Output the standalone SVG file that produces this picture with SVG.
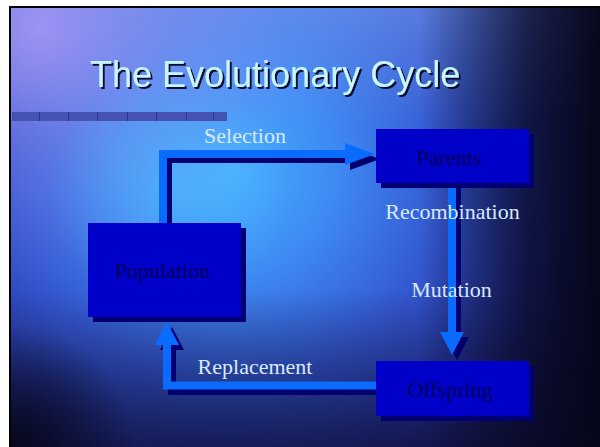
<svg xmlns="http://www.w3.org/2000/svg" width="600" height="447" viewBox="0 0 600 447">
<defs>
<radialGradient id="glow" cx="230" cy="170" r="390" gradientUnits="userSpaceOnUse">
<stop offset="0" stop-color="#48b0ff"/>
<stop offset="0.28" stop-color="#3e88f2"/>
<stop offset="0.55" stop-color="#3458d0"/>
<stop offset="0.8" stop-color="#2636a4"/>
<stop offset="1" stop-color="#1a2278"/>
</radialGradient>
<radialGradient id="violet" cx="40" cy="30" r="260" gradientUnits="userSpaceOnUse">
<stop offset="0" stop-color="#b09af8" stop-opacity="0.8"/>
<stop offset="0.5" stop-color="#9a90f0" stop-opacity="0.35"/>
<stop offset="1" stop-color="#9080f0" stop-opacity="0"/>
</radialGradient>
<linearGradient id="topBand" x1="0" y1="8" x2="0" y2="130" gradientUnits="userSpaceOnUse">
<stop offset="0" stop-color="#7aa4f8" stop-opacity="0.55"/>
<stop offset="1" stop-color="#7aa4f8" stop-opacity="0"/>
</linearGradient>
<radialGradient id="cyan" cx="170" cy="190" r="120" gradientUnits="userSpaceOnUse">
<stop offset="0" stop-color="#50c8ff" stop-opacity="0.45"/>
<stop offset="1" stop-color="#50c8ff" stop-opacity="0"/>
</radialGradient>
<linearGradient id="rightDark" x1="420" y1="0" x2="600" y2="0" gradientUnits="userSpaceOnUse">
<stop offset="0" stop-color="#080820" stop-opacity="0"/>
<stop offset="0.6" stop-color="#080822" stop-opacity="0.75"/>
<stop offset="1" stop-color="#050518" stop-opacity="0.97"/>
</linearGradient>
<linearGradient id="bottomDark" x1="0" y1="290" x2="0" y2="447" gradientUnits="userSpaceOnUse">
<stop offset="0" stop-color="#0c0c30" stop-opacity="0"/>
<stop offset="1" stop-color="#0c0c30" stop-opacity="0.7"/>
</linearGradient>
<radialGradient id="blCorner" cx="15" cy="447" r="120" gradientUnits="userSpaceOnUse">
<stop offset="0" stop-color="#060618" stop-opacity="0.9"/>
<stop offset="1" stop-color="#060618" stop-opacity="0"/>
</radialGradient>
<filter id="tshadow" x="-5%" y="-20%" width="110%" height="140%">
<feOffset in="SourceAlpha" dx="2" dy="2" result="off"/>
<feFlood flood-color="#0a0a30"/>
<feComposite in2="off" operator="in" result="sh"/>
<feMerge><feMergeNode in="sh"/><feMergeNode in="SourceGraphic"/></feMerge>
</filter>
<style>
.lbl{font-family:"Liberation Serif","Times New Roman",serif;font-size:22px;fill:#d8eaff;text-anchor:middle}
.ntxt{font-family:"Liberation Serif","Times New Roman",serif;font-size:22px;fill:#000058;text-anchor:middle}
.box{fill:#0000c8}
.boxsh{fill:#000070}
.ln{fill:none;stroke:#0a6cff;stroke-width:8;stroke-linejoin:miter;stroke-linecap:butt}
.lnsh{fill:none;stroke:#00006e;stroke-width:8;stroke-linejoin:miter;stroke-linecap:butt}
.hd{fill:#0a6cff}
.hdsh{fill:#00006e}
.title{font-family:"Liberation Sans",Arial,sans-serif;font-size:36px;fill:#c8f6ff}
</style>
</defs>
<rect x="0" y="0" width="600" height="447" fill="#ffffff"/>
<g id="background">
<rect x="11" y="8" width="589" height="439" fill="url(#glow)"/>
<rect x="11" y="8" width="589" height="439" fill="url(#topBand)"/>
<rect x="11" y="8" width="589" height="439" fill="url(#violet)"/>
<rect x="11" y="8" width="589" height="439" fill="url(#cyan)"/>
<rect x="11" y="8" width="589" height="439" fill="url(#bottomDark)"/>
<rect x="11" y="8" width="589" height="439" fill="url(#rightDark)"/>
<rect x="11" y="8" width="589" height="439" fill="url(#blCorner)"/>
<rect x="9" y="6" width="591" height="2" fill="#000000"/>
<rect x="9" y="6" width="2" height="441" fill="#000000"/>
</g>
<g id="title">
<text class="title" x="90" y="87" filter="url(#tshadow)">The Evolutionary Cycle</text>
</g>
<g id="stripe-bar">
<rect x="12" y="112" width="215" height="9" fill="#4652b4"/>
<g fill="#2a3688">
<rect x="39" y="112" width="1" height="9"/>
<rect x="68" y="112" width="1" height="9"/>
<rect x="97" y="112" width="1" height="9"/>
<rect x="127" y="112" width="1" height="9"/>
<rect x="156" y="112" width="1" height="9"/>
<rect x="186" y="112" width="1" height="9"/>
<rect x="213" y="112" width="1" height="9"/>
</g>
</g>
<g id="connectors">
<g id="selection">
<polyline class="lnsh" points="168,228 168,159 350,159"/>
<polygon class="hdsh" points="350,148 380,159 350,170"/>
<polyline class="ln" points="163,223 163,154 346,154"/>
<polygon class="hd" points="345,143 375,154 345,165"/>
<text class="lbl" x="245" y="143">Selection</text>
</g>
<g id="variation">
<polyline class="lnsh" points="457,188 457,338"/>
<polygon class="hdsh" points="445,337 469,337 457,360"/>
<polyline class="ln" points="452,183 452,333"/>
<polygon class="hd" points="440,332 464,332 452,355"/>
<text class="lbl" x="452.5" y="219">Recombination</text>
<text class="lbl" x="451.5" y="297">Mutation</text>
</g>
<g id="replacement">
<polyline class="lnsh" points="381,391 172,391 172,349"/>
<polygon class="hdsh" points="160,350 184,350 172,327"/>
<polyline class="ln" points="376,385.5 167,385.5 167,344"/>
<polygon class="hd" points="155,345 179,345 167,322"/>
<text class="lbl" x="255" y="374">Replacement</text>
</g>
</g>
<g id="population">
<rect class="boxsh" x="93" y="228" width="153" height="94"/>
<rect class="box" x="88" y="223" width="153" height="94"/>
<text class="ntxt" x="162.5" y="278">Population</text>
</g>
<g id="parents">
<rect class="boxsh" x="381" y="134" width="153" height="54"/>
<rect class="box" x="376" y="129" width="153" height="54"/>
<text class="ntxt" x="449" y="165">Parents</text>
</g>
<g id="offspring">
<rect class="boxsh" x="381" y="366" width="153" height="55"/>
<rect class="box" x="376" y="361" width="153" height="55"/>
<text class="ntxt" x="450" y="397">Offspring</text>
</g>
</svg>
